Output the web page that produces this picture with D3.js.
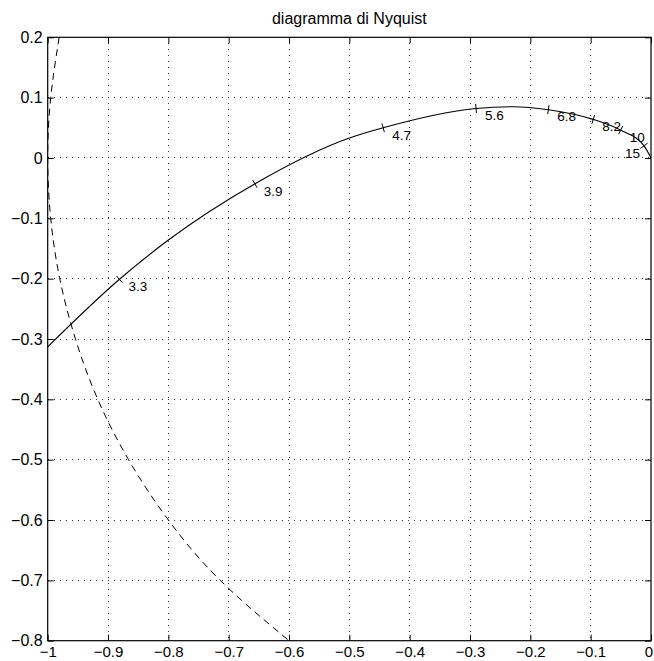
<!DOCTYPE html>
<html>
<head>
<meta charset="utf-8">
<script src="https://cdn.jsdelivr.net/npm/d3@7"></script>
<style>
  body { margin: 0; background: #fff; }
  svg { display: block; font-family: "Liberation Sans", Arial, Helvetica, sans-serif; }
</style>
</head>
<body>
<script>
// Nyquist diagram, values
var width = 654, height = 661;
var margin = {top: 37.3, right: 3, bottom: 20.3, left: 47.7};
var w = width - margin.left - margin.right;
var h = height - margin.top - margin.bottom;

// solid curve (Re, Im)
var nyqRe = [-1, -0.881, -0.8, -0.657, -0.5, -0.444, -0.29, -0.228, -0.17, -0.096, -0.05, -0.0115, 0];
var nyqIm = [-0.313, -0.201, -0.136, -0.043, 0.033, 0.05, 0.082, 0.085, 0.08, 0.064, 0.046, 0.02, 0];

// dashed curve (unit circle part)
var circRe = [-0.981, -0.995, -1, -0.995, -0.98, -0.954, -0.917, -0.866, -0.8, -0.714, -0.6];
var circIm = [0.2, 0.1, 0, -0.1, -0.2, -0.3, -0.4, -0.5, -0.6, -0.7, -0.8];

// frequency marks on the curve
var markLabels = ["3.3", "3.9", "4.7", "5.6", "6.8", "8.2", "10", "15"];
var markRe = [-0.881, -0.657, -0.444, -0.29, -0.17, -0.096, -0.05, -0.0115];
var markIm = [-0.201, -0.043, 0.05, 0.082, 0.08, 0.064, 0.046, 0.02];

var xTicks = [-1, -0.9, -0.8, -0.7, -0.6, -0.5, -0.4, -0.3, -0.2, -0.1, 0];
var xTickLabels = ["\u22121", "\u22120.9", "\u22120.8", "\u22120.7", "\u22120.6", "\u22120.5", "\u22120.4", "\u22120.3", "\u22120.2", "\u22120.1", "0"];
var yTicks = [0.2, 0.1, 0, -0.1, -0.2, -0.3, -0.4, -0.5, -0.6, -0.7, -0.8];
var yTickLabels = ["0.2", "0.1", "0", "\u22120.1", "\u22120.2", "\u22120.3", "\u22120.4", "\u22120.5", "\u22120.6", "\u22120.7", "\u22120.8"];

var x = d3.scaleLinear().domain([-1, 0]).range([0, w]);
var y = d3.scaleLinear().domain([-0.8, 0.2]).range([h, 0]);

var svg = d3.select("body").append("svg")
    .attr("width", width)
    .attr("height", height);

var g = svg.append("g")
    .attr("transform", "translate(" + margin.left + "," + margin.top + ")");

g.append("clipPath").attr("id", "clip")
  .append("rect").attr("width", w).attr("height", h);

//grid
var grid = g.append("g").attr("stroke", "#333").attr("stroke-width", 1)
    .attr("stroke-dasharray", "1,5").attr("shape-rendering", "crispEdges");
grid.selectAll(".gx").data(xTicks.slice(1, -1)).enter().append("line")
    .attr("x1", function(d) { return x(d); }).attr("x2", function(d) { return x(d); })
    .attr("y1", 0).attr("y2", h);
grid.selectAll(".gy").data(yTicks.slice(1, -1)).enter().append("line")
    .attr("y1", function(d) { return y(d); }).attr("y2", function(d) { return y(d); })
    .attr("x1", 0).attr("x2", w);

//axes, ticks pointing inward
function fmt(ticks, labels) {
  return function(d) { return labels[ticks.indexOf(d)]; };
}
var xAxis = g.append("g").attr("transform", "translate(0," + h + ")")
    .call(d3.axisBottom(x).tickValues(xTicks).tickFormat(fmt(xTicks, xTickLabels))
      .tickSizeInner(-6).tickSizeOuter(0).tickPadding(6));
var yAxis = g.append("g")
    .call(d3.axisLeft(y).tickValues(yTicks).tickFormat(fmt(yTicks, yTickLabels))
      .tickSizeInner(-6).tickSizeOuter(0).tickPadding(5));
g.append("g")
    .call(d3.axisTop(x).tickValues(xTicks).tickFormat("").tickSizeInner(-6).tickSizeOuter(0));
g.append("g").attr("transform", "translate(" + w + ",0)")
    .call(d3.axisRight(y).tickValues(yTicks).tickFormat("").tickSizeInner(-6).tickSizeOuter(0));
g.selectAll(".tick text").attr("fill", "#000")
    .attr("font-family", "'Liberation Sans', Arial, sans-serif");
yAxis.selectAll(".tick text").attr("font-size", 16);
xAxis.selectAll(".tick text").attr("font-size", 15);
// keep the last label "0" inside the window
xAxis.selectAll(".tick text").filter(function(d) { return d === 0; }).attr("dx", -2.5);
g.selectAll(".domain").remove();
g.selectAll(".tick line").attr("stroke", "#000");

g.append("rect").attr("width", w).attr("height", h)
    .attr("fill", "none").attr("stroke", "#000").attr("stroke-width", 1.2);

//curves
var nyq = nyqRe.map(function(d, i) { return [d, nyqIm[i]]; });
var circ = circRe.map(function(d, i) { return [d, circIm[i]]; });

var line = d3.line()
    .x(function(d) { return x(d[0]); })
    .y(function(d) { return y(d[1]); });

var plot = g.append("g").attr("clip-path", "url(#clip)");

plot.append("path").datum(circ)
    .attr("d", line.curve(d3.curveNatural))
    .attr("fill", "none").attr("stroke", "#000").attr("stroke-width", 1)
    .attr("stroke-dasharray", "7,5");

var nyqPath = plot.append("path").datum(nyq)
    .attr("d", line.curve(d3.curveMonotoneX))
    .attr("fill", "none").attr("stroke", "#000").attr("stroke-width", 1.1);

//frequency marks, short ticks across the curve
var node = nyqPath.node();
var total = node.getTotalLength();
markRe.forEach(function(re, i) {
  var px = x(re), py = y(markIm[i]);
  var best = 0, bestD = Infinity;
  for (var l = 0; l <= total; l += 0.5) {
    var p = node.getPointAtLength(l);
    var dd = (p.x - px) * (p.x - px) + (p.y - py) * (p.y - py);
    if (dd < bestD) { bestD = dd; best = l; }
  }
  var p0 = node.getPointAtLength(Math.max(0, best - 2));
  var p1 = node.getPointAtLength(Math.min(total, best + 2));
  var c = node.getPointAtLength(best);
  var tx = p1.x - p0.x, ty = p1.y - p0.y, n = Math.sqrt(tx * tx + ty * ty);
  var nx = -ty / n * 4.5, ny = tx / n * 4.5;
  g.append("line")
    .attr("x1", c.x - nx).attr("y1", c.y - ny)
    .attr("x2", c.x + nx).attr("y2", c.y + ny)
    .attr("stroke", "#000").attr("stroke-width", 1);
  var last = i === markRe.length - 1;
  g.append("text")
    .attr("x", last ? c.x - 4 : c.x + 9)
    .attr("y", c.y + 7)
    .attr("dy", "0.35em")
    .attr("text-anchor", last ? "end" : "start")
    .attr("font-size", 13.5)
    .attr("fill", "#000")
    .text(markLabels[i]);
});

//title
svg.append("text")
    .attr("x", margin.left + w / 2)
    .attr("y", 24)
    .attr("text-anchor", "middle")
    .attr("font-size", 16)
    .attr("fill", "#000")
    .text("diagramma di Nyquist");
</script>
</body>
</html>
